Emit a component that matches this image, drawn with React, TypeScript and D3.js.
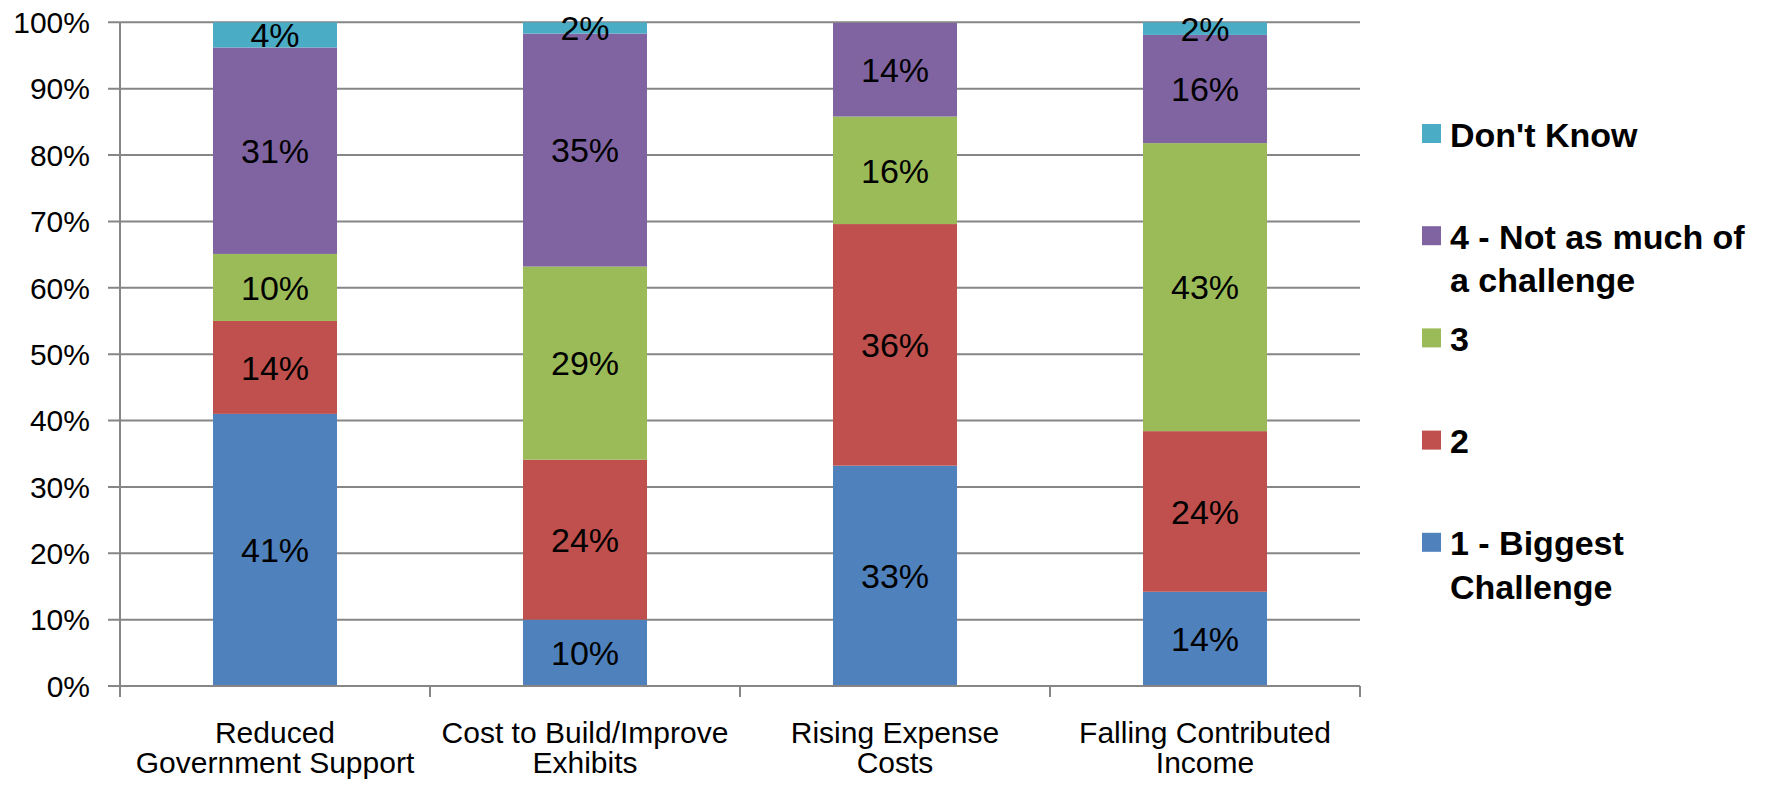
import React from 'react';
import * as d3 from 'd3';

// DATA (percent of respondents)
const categories = [
  'Reduced Government Support',
  'Cost to Build/Improve Exhibits',
  'Rising Expense Costs',
  'Falling Contributed Income',
];
const categoryLines = [
  ['Reduced', 'Government Support'],
  ['Cost to Build/Improve', 'Exhibits'],
  ['Rising Expense', 'Costs'],
  ['Falling Contributed', 'Income'],
];
const seriesNames = ['1 - Biggest Challenge', '2', '3', '4 - Not as much of a challenge', "Don't Know"];
const biggest = [41.0, 10.0, 33.2, 14.2];
const two = [14.0, 24.1, 36.4, 24.2];
const three = [10.1, 29.1, 16.2, 43.4];
const notMuch = [31.1, 35.1, 14.1, 16.3];
const dontKnow = [3.8, 1.7, 0, 1.9];
const yTicks = [0, 10, 20, 30, 40, 50, 60, 70, 80, 90, 100];

const colors = ['#4F81BD', '#C0504D', '#9BBB59', '#8064A2', '#4BACC6'];
// legend is listed top-down, lines split like the original
const legendItems = [
  { idx: 4, lines: ["Don't Know"] },
  { idx: 3, lines: ['4 - Not as much of', 'a challenge'] },
  { idx: 2, lines: ['3'] },
  { idx: 1, lines: ['2'] },
  { idx: 0, lines: ['1 - Biggest', 'Challenge'] },
];

const W = 1768,
  H = 786;
const left = 120,
  right = 1360,
  top = 22.3,
  bottom = 686;
const font = "'Liberation Sans', Arial, sans-serif";
const gridColor = '#868686';

export default function App() {
  const rows = categories.map((c, i) => ({
    cat: c,
    [seriesNames[0]]: biggest[i],
    [seriesNames[1]]: two[i],
    [seriesNames[2]]: three[i],
    [seriesNames[3]]: notMuch[i],
    [seriesNames[4]]: dontKnow[i],
  }));

  const stacked = d3.stack<any>().keys(seriesNames)(rows);

  const x = d3
    .scaleBand<string>()
    .domain(categories)
    .range([left, right])
    .paddingInner(0.6)
    .paddingOuter(0.3);
  const y = d3.scaleLinear().domain([0, 100]).range([bottom, top]);

  const step = x.step();
  const bounds = categories.map((c) => (x(c) as number) - step * 0.3);
  bounds.push(right);

  return (
    <svg width={W} height={H} style={{ position: 'absolute', left: 0, top: 0, background: '#fff' }}>
      {/* GRID + Y AXIS */}
      {yTicks.map((t) => (
        <g key={t}>
          <line x1={108} x2={right} y1={y(t)} y2={y(t)} stroke={gridColor} strokeWidth={2} />
          <text
            x={90}
            y={y(t)}
            dy="0.36em"
            textAnchor="end"
            fontFamily={font}
            fontSize={30}
            fill="#000"
          >
            {t}%
          </text>
        </g>
      ))}
      <line x1={left} x2={left} y1={top} y2={bottom + 11} stroke={gridColor} strokeWidth={2} />

      {/* BARS */}
      {stacked.map((s, si) => (
        <g key={s.key} fill={colors[si]}>
          {s.map((d, i) =>
            d[1] - d[0] > 0 ? (
              <rect
                key={i}
                x={x(categories[i])}
                width={x.bandwidth()}
                y={y(d[1])}
                height={y(d[0]) - y(d[1])}
              />
            ) : null
          )}
        </g>
      ))}

      {/* X AXIS */}
      <line x1={left} x2={right} y1={bottom} y2={bottom} stroke={gridColor} strokeWidth={2} />
      {bounds.map((b, i) => (
        <line key={i} x1={b} x2={b} y1={bottom} y2={bottom + 11} stroke={gridColor} strokeWidth={2} />
      ))}

      {/* DATA LABELS */}
      {stacked.map((s) =>
        s.map((d, i) =>
          d[1] - d[0] > 0 ? (
            <text
              key={s.key + i}
              x={(x(categories[i]) as number) + x.bandwidth() / 2}
              y={y((d[0] + d[1]) / 2)}
              dy="0.36em"
              textAnchor="middle"
              fontFamily={font}
              fontSize={34}
              fill="#000"
            >
              {Math.round(d[1] - d[0])}%
            </text>
          ) : null
        )
      )}

      {/* CATEGORY LABELS */}
      {categoryLines.map((lines, i) => (
        <text
          key={i}
          x={(x(categories[i]) as number) + x.bandwidth() / 2}
          y={743}
          textAnchor="middle"
          fontFamily={font}
          fontSize={30}
          fill="#000"
        >
          {lines.map((l, j) => (
            <tspan key={j} x={(x(categories[i]) as number) + x.bandwidth() / 2} dy={j === 0 ? 0 : 30}>
              {l}
            </tspan>
          ))}
        </text>
      ))}

      {/* LEGEND */}
      {legendItems.map((item, k) => {
        const cy = 133.5 + k * 102.2;
        return (
          <g key={item.idx}>
            <rect x={1422} y={cy - 9.5} width={19} height={19} fill={colors[item.idx]} />
            <text x={1450} y={cy + 13} fontFamily={font} fontSize={34} fontWeight="bold" fill="#000">
              {item.lines.map((l, j) => (
                <tspan key={j} x={1450} dy={j === 0 ? 0 : 43.5}>
                  {l}
                </tspan>
              ))}
            </text>
          </g>
        );
      })}
    </svg>
  );
}
